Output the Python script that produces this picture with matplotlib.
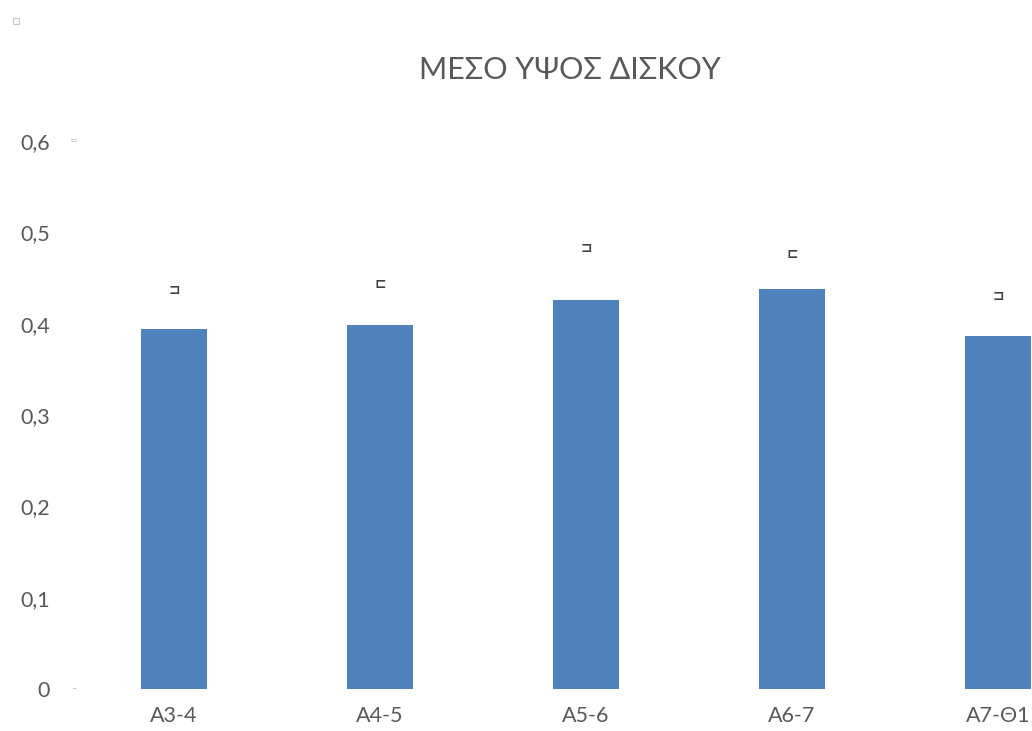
import matplotlib.pyplot as plt
import matplotlib.patches as mpatches

# Datos
categorias = ['A3-4', 'A4-5', 'A5-6', 'A6-7', 'A7-Θ1']
altura_media = [0.394, 0.399, 0.426, 0.438, 0.386]
marca_superior = [0.437, 0.443, 0.483, 0.476, 0.430]
simbolos = ['⊐', '⊏', '⊐', '⊏', '⊐']
ticks_y = [0, 0.1, 0.2, 0.3, 0.4, 0.5, 0.6]
etiquetas_y = ['0', '0,1', '0,2', '0,3', '0,4', '0,5', '0,6']

plt.rcParams['font.family'] = ['Lato', 'DejaVu Sans']
gris = '#595959'

fig = plt.figure(figsize=(10.32, 7.31), dpi=100)
# el área del gráfico se sale por la derecha, como en la imagen original
ax = fig.add_axes([71 / 1032, 42 / 731, 1030 / 1032, 548 / 731])

x = list(range(len(categorias)))
ax.bar(x, altura_media, width=0.316, color='#4F81BD')

for xi, y, s in zip(x, marca_superior, simbolos):
    ax.text(xi, y, s, ha='center', va='center', fontsize=10, color='#404040',
            family=['DejaVu Sans'], fontweight='bold')

ax.set_xlim(-0.5, len(categorias) - 0.5)
ax.set_ylim(0, 0.6)
ax.set_yticks(ticks_y)
ax.set_yticklabels(etiquetas_y)
ax.set_xticks(x)
ax.set_xticklabels(categorias)
ax.tick_params(axis='both', length=0, labelsize=15.5, colors=gris)
ax.tick_params(axis='y', pad=15)
ax.tick_params(axis='x', pad=12)

for lado in ax.spines.values():
    lado.set_visible(False)

# pequeñas marcas grises junto al eje
ax.text(-0.485, 0.6, '=', ha='center', va='center', fontsize=10, color='#c8c8c8')
ax.text(-0.485, 0.0, '-', ha='center', va='center', fontsize=10, color='#c8c8c8')

fig.text(570 / 1032, 1 - 70 / 731, 'ΜΕΣΟ ΥΨΟΣ ΔΙΣΚΟΥ', ha='center', va='center',
         fontsize=22, color=gris)

fig.patches.append(mpatches.Rectangle((13 / 1032, 1 - 24 / 731), 6 / 1032, 6 / 731,
                                      transform=fig.transFigure, fill=False,
                                      edgecolor='#c8c8c8', linewidth=0.8))

fig.savefig('out.png', dpi=100)
